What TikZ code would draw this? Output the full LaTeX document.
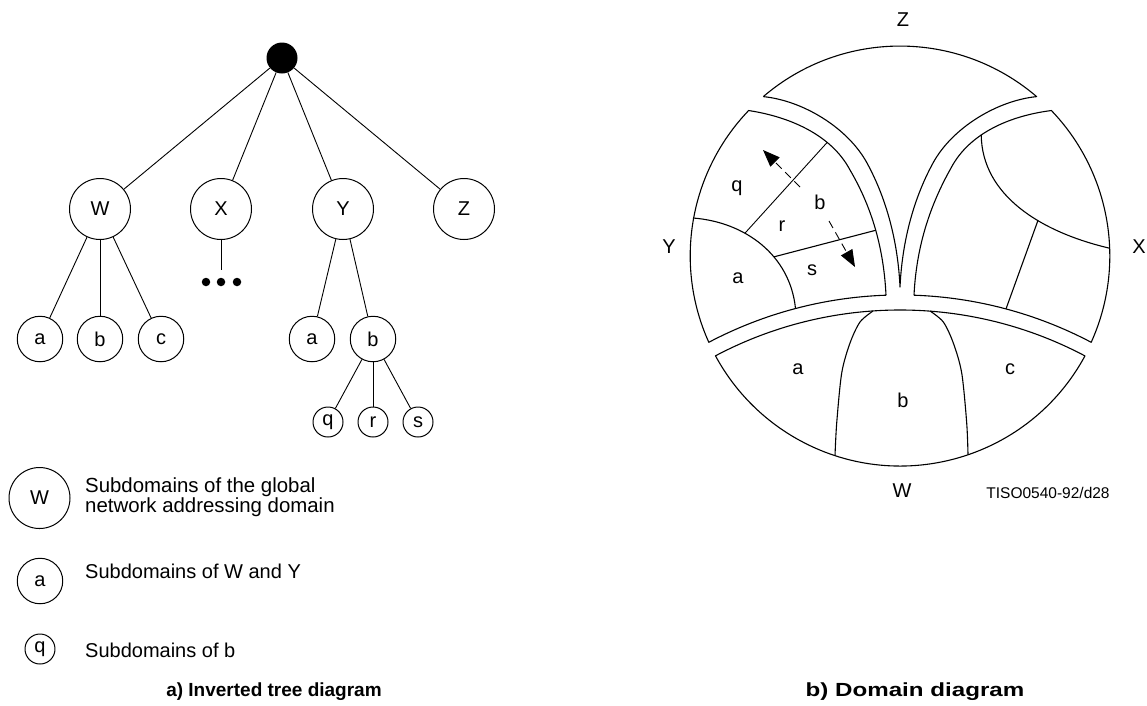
\documentclass[tikz,border=0pt]{standalone}
\usepackage{fontspec}
\setmainfont{Liberation Sans}
\usetikzlibrary{arrows.meta}
\begin{document}
\begin{tikzpicture}[x=1pt,y=-1pt,line join=round,
  txt/.style={font=\fontsize{20}{20}\selectfont,inner sep=0pt},
  bignode/.style={circle,draw,line width=1pt,minimum size=61pt,inner sep=0pt,font=\fontsize{20}{20}\selectfont},
  midnode/.style={bignode,minimum size=45.5pt},
  smallnode/.style={bignode,minimum size=30pt},
  rootdot/.style={circle,fill=black,minimum size=31pt,inner sep=0pt},
  ell/.style={circle,fill=black,minimum size=8.5pt,inner sep=0pt},
  branch/.style={line width=0.9pt},
  region/.style={line width=1.1pt},
  captxt/.style={font=\bfseries\fontsize{19}{19}\selectfont,inner sep=0pt},
  dasharrow/.style={line width=0.9pt,dash pattern=on 8pt off 5pt,-{Triangle[length=17pt,width=13pt]}}]
\useasboundingbox (0,0) rectangle (1147,705);

% ---------- a) inverted tree ----------
\node[rootdot] (root) at (282,58) {};
\node[bignode] (W) at (100,209) {W};
\node[bignode] (X) at (221,209) {X};
\node[bignode] (Y) at (343,209) {Y};
\node[bignode] (Z) at (464,209) {Z};
\node[midnode] (Wa) at (40,339) {a};
\node[midnode] (Wb) at (100,339) {b};
\node[midnode] (Wc) at (161,339) {c};
\node[midnode] (Ya) at (312,339) {a};
\node[midnode] (Yb) at (373,339) {b};
\node[smallnode] (q) at (328,422) {q};
\node[smallnode] (r) at (373,422) {r};
\node[smallnode] (s) at (418,422) {s};
\coordinate (Xend) at (221,270);
\node[ell] (d1) at (206,282) {};
\node[ell] (d2) at (221,282) {};
\node[ell] (d3) at (237,282) {};
\foreach \n in {W,X,Y,Z} \draw[branch] (root) -- (\n);
\foreach \n in {Wa,Wb,Wc} \draw[branch] (W) -- (\n);
\foreach \n in {Ya,Yb} \draw[branch] (Y) -- (\n);
\foreach \n in {q,r,s} \draw[branch] (Yb) -- (\n);
\draw[branch] (X) -- (Xend);

% legend
\node[bignode] (lW) at (39.5,498) {W};
\node[midnode] (la) at (40,581) {a};
\node[smallnode] (lq) at (40,649) {q};
\node[txt,anchor=north west,align=left,font=\fontsize{20.4}{20}\selectfont] (tW) at (85,477.5) {Subdomains of the global\\network addressing domain};
\node[txt,anchor=west] (ta) at (85,571) {Subdomains of W and Y};
\node[txt,anchor=west] (tq) at (85,650) {Subdomains of b};
\node[captxt] (capa) at (274,692) {a) Inverted tree diagram};

% ---------- b) domain diagram ----------
% Z region
\draw[region] (763.3,96.6) arc[start angle=-130.6,end angle=-49.4,radius=210]
  .. controls (997,100.6) and (952.2,127.8) .. (933,163)
  .. controls (912.4,200.8) and (902,244) .. (900,287)
  .. controls (898,244) and (887.6,200.8) .. (867,163)
  .. controls (847.8,127.8) and (803,100.6) .. (763.3,96.6);
% Y region
\draw[region] (886,295.2) arc[start angle=-91.96,end angle=-117.8,radius=410]
  arc[start angle=155.7,end angle=223.8,radius=210]
  .. controls (788,116.5) and (831,134) .. coordinate[pos=0.7] (qr2) (850,170)
  .. controls (872.8,208.8) and (883.8,250.2) .. coordinate[pos=0.5] (rs2) (886,295.2);
% X region
\draw[region] (914,295.2) arc[start angle=-88.04,end angle=-62.2,radius=410]
  arc[start angle=24.3,end angle=-43.8,radius=210]
  .. controls (1012,115.5) and (970,132) .. coordinate[pos=0.62] (xc1) (951,168)
  .. controls (928,208.8) and (916.2,250.2) .. (914,295.2);
% W region
\draw[region] (715.3,355.9) arc[start angle=-117.9,end angle=-62.1,radius=395]
  arc[start angle=28.4,end angle=151.6,radius=210] -- cycle;

% subdivisions of Y
\coordinate (ya1) at (693,218);
\coordinate (ya2) at (795.5,308.5);
\draw[region] (ya1) .. controls (745,222) and (790,255) .. coordinate[pos=0.36] (qr1) coordinate[pos=0.62] (rs1) (ya2);
\draw[branch] (qr1) -- (qr2);
\draw[region] (rs1) -- (rs2);
% subdivisions of X
\coordinate (xc2) at (1110,248.3);
\draw[region] (xc1) .. controls (982,195) and (1040,232) .. coordinate[pos=0.62] (xl1) (xc2);
\coordinate (xl2) at (1006,308.9);
\draw[region] (xl1) -- (xl2);
% subdivisions of W
\draw[region] plot[smooth] coordinates {(835,455.7) (836.7,423) (841.7,373) (850,343) (860,322) (873,311)};
\draw[region] plot[smooth] coordinates {(968,454.7) (966.7,423) (961.7,373) (953.3,343) (943.3,322) (930,311)};

% dashed arrows
\coordinate (ua) at (800,187);
\coordinate (ut) at (763,150);
\coordinate (lo) at (829,221);
\coordinate (lt) at (855,267);
\draw[dasharrow] (ua) -- (ut);
\draw[dasharrow] (lo) -- (lt);

% labels in regions
\node[txt] (Lq) at (737,188) {q};
\node[txt] (Lb) at (820,202) {b};
\node[txt] (Lr) at (782,226) {r};
\node[txt] (Ls) at (812,270) {s};
\node[txt] (La) at (738,278) {a};
\node[txt] (Wra) at (798,369) {a};
\node[txt] (Wrb) at (903,400) {b};
\node[txt] (Wrc) at (1010,369) {c};

\node[txt] (LZ) at (903,20) {Z};
\node[txt] (LY) at (669,247) {Y};
\node[txt] (LX) at (1139,247) {X};
\node[txt] (LW) at (902,491) {W};
\node[txt,font=\fontsize{15.5}{15.5}\selectfont] (tiso) at (1048,493) {TISO0540-92/d28};
\node[captxt] (capb) at (915,692) {\scalebox{1.27}[1]{b) Domain diagram}};
\end{tikzpicture}
\end{document}
